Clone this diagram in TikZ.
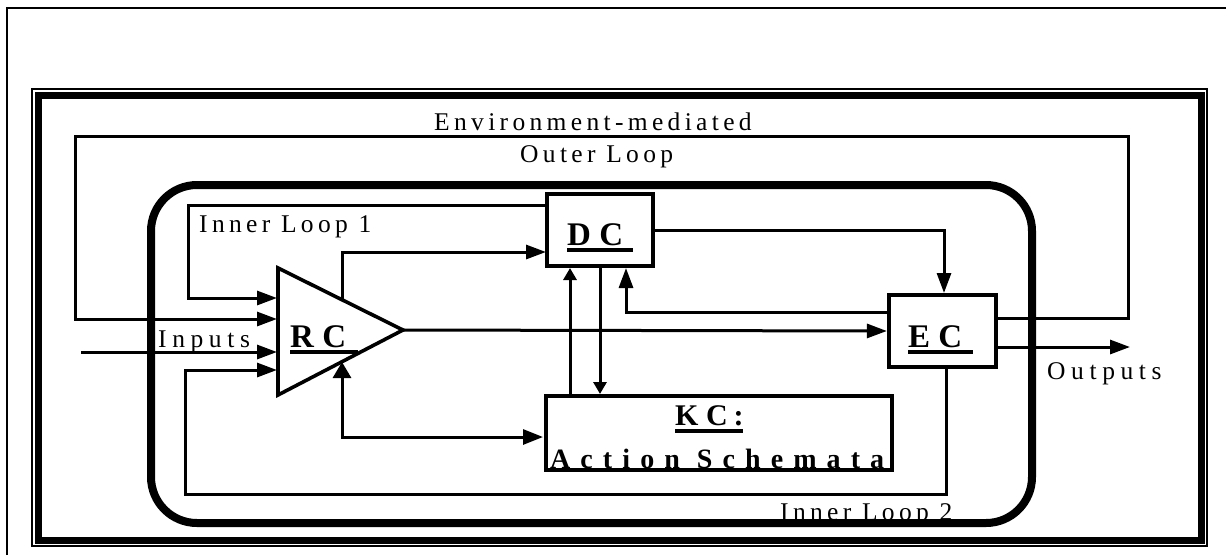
\documentclass[tikz,border=0pt]{standalone}
\usepackage{fontspec}
\setmainfont{Liberation Serif}
\newfontfamily\lblA[LetterSpace=17]{Liberation Serif}
\newfontfamily\lblB[LetterSpace=22]{Liberation Serif}
\newfontfamily\lblC[LetterSpace=36]{Liberation Serif}
\usetikzlibrary{arrows.meta}
\begin{document}
\begin{tikzpicture}[x=1pt,y=-1pt,
  conn/.style={line width=3pt},
  arr/.style={conn,-{Triangle[length=20pt,width=14pt]}},
  sarr/.style={conn,-{Triangle[length=12pt,width=13pt]}},
  darr/.style={conn,{Triangle[length=16pt,width=18pt]}-{Triangle[length=20pt,width=15pt]}},
  box/.style={draw,line width=4.2pt,inner sep=0pt},
  lab/.style={inner sep=0pt,anchor=base west,font=\lblA\fontsize{25.5}{25.5}\selectfont},
  labw/.style={inner sep=0pt,anchor=base west,font=\lblB\fontsize{25.5}{25.5}\selectfont},
  blab/.style={inner sep=0pt,anchor=base west,font=\bfseries\fontsize{33}{33}\selectfont},
  uline/.style={line width=3.4pt}]
\useasboundingbox (0,0) rectangle (1226,555);
% thin outer border
\draw[line width=1.5pt] (7,555) -- (7,8) -- (1226,8);
% double frame
\draw[line width=1.4pt] (32,89) rectangle (1207,546);
\draw[line width=7pt] (38,95) rectangle (1201,540.5);

% labels of loops
\node[lab] (envlab) at (434,130) {Environment-mediated};
\node[lab] (outlab) at (520,162) {Outer Loop};
\node[lab] (il1lab) at (199,232) {Inner Loop 1};
\node[lab] (il2lab) at (780,520) {Inner Loop 2};
\node[labw] (inlab) at (158,347) {Inputs};
\node[labw] (outplab) at (1047,379) {Outputs};

% rounded inner boundary
\draw[line width=8pt,rounded corners=46pt] (151,185) rectangle (1032,523);

% boxes
\node[box,minimum width=106pt,minimum height=72pt] (DC) at (600,230) {};
\node[box,minimum width=107pt,minimum height=72pt] (EC) at (942.5,331) {};
\node[box,minimum width=346pt,minimum height=74pt] (KC) at (719,433) {};

% RC triangle
\coordinate (rcT) at (278,268);
\coordinate (rcB) at (278,395);
\coordinate (rcX) at (403,330);
\draw[line width=3.6pt,line join=miter] (rcT) -- (rcX) -- (rcB) -- cycle;

% texts in boxes
\node[blab] (rclab) at (290,347) {R C};
\draw[uline] (290,352) -- (358,352);
\node[blab] (dclab) at (567,245) {D C};
\draw[uline] (567,250) -- (633,250);
\node[blab] (eclab) at (908,347) {E C};
\draw[uline] (908,352) -- (973,352);
\node[inner sep=0pt,anchor=base west,font=\bfseries\fontsize{30}{30}\selectfont] (kclab) at (675,425) {K C\hspace{6pt}:};
\draw[uline] (675,431) -- (743,431);
\node[inner sep=0pt,anchor=base west,font=\lblC\bfseries\fontsize{28}{28}\selectfont] (aslab) at (550,468) {Action Schemata};

% named end points
\coordinate (in1) at (277,298);
\coordinate (in2) at (277,319);
\coordinate (in3) at (277,352);
\coordinate (in4) at (277,370);
\coordinate (inS) at (81,352);
\coordinate (outE) at (1130,347);
\coordinate (rcTop) at (342,300);
\coordinate (rcBot) at (342,362);
\coordinate (kcUp) at (570,0);
\coordinate (dcDn) at (600,0);

% outer loop
\draw[arr] (EC.east |- 0,318) -- (1128,318) -- (1128,136) -- (75,136) -- (75,319) -- (in2);
% inputs
\draw[arr] (inS) -- (in3);
% inner loop 1
\draw[arr] (DC.west |- 0,205) -- (188,205) -- (188,298) -- (in1);
% inner loop 2
\draw[arr] (946,367) -- (946,494) -- (185,494) -- (185,370) -- (in4);
% RC -> DC
\draw[arr] (rcTop) -- (342,252) -- (546,252);
% DC -> EC
\draw[arr] (DC.east |- 0,230) -- (944,230) -- (944,293);
% RC apex -> EC
\draw[arr] (rcX) -- (EC.west);
% EC -> DC
\draw[arr] (EC.west |- 0,312) -- (626,312) -- (626,268);
% KC <-> DC
\draw[sarr] (kcUp |- KC.north) -- (kcUp |- 0,268);
\draw[sarr] (dcDn |- DC.south) -- (dcDn |- 0,394);
% RC <-> KC
\draw[darr] (rcBot) -- (342,437) -- (543,437);
% outputs
\draw[arr] (EC.east |- outE) -- (outE);
\end{tikzpicture}
\end{document}
